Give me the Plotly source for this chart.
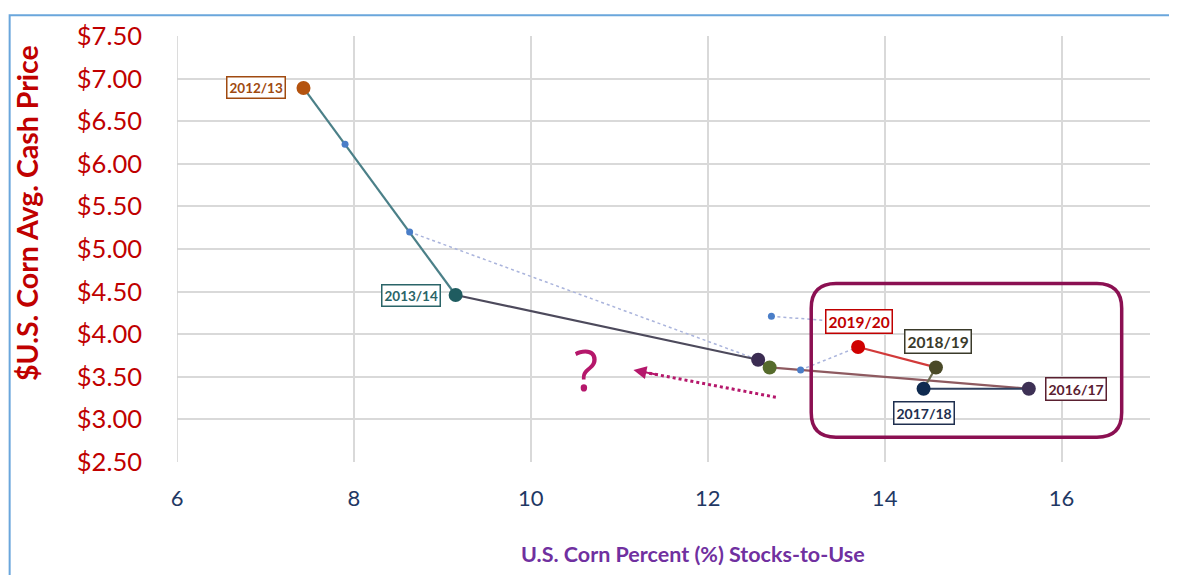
import plotly.graph_objects as go

years = ["2012/13", "2013/14", "2014/15", "2015/16", "2016/17", "2017/18", "2018/19", "2019/20"]
stocks_to_use = [7.43, 9.15, 12.57, 12.70, 15.63, 14.44, 14.58, 13.70]
cash_price = [6.89, 4.46, 3.70, 3.61, 3.36, 3.36, 3.61, 3.85]
labeled = [True, True, False, False, True, True, True, True]

proj_x = [7.90, 8.63, 12.72, 13.05]
proj_y = [6.23, 5.20, 4.21, 3.58]

y_ticks = [2.5, 3.0, 3.5, 4.0, 4.5, 5.0, 5.5, 6.0, 6.5, 7.0, 7.5]
x_ticks = [6, 8, 10, 12, 14, 16]

marker_colors = ["#b4530f", "#1f5c60", "#3b2c52", "#566b2c", "#3e3155", "#0f2a50", "#4a4a28", "#d00000"]
segment_colors = ["#4b8088", "#4d4a5c", "#4a4a3a", "#8e5a60", "#2f4060", "#6a6a50", "#d23a3a"]
label_colors = ["#a04a10", "#2a6468", None, None, "#5a2030", "#1f2f4f", "#3a3a2a", "#c00000"]
label_sizes = [13.5, 13.5, None, None, 14, 14, 15.5, 15.5]
label_shift = [(-47, 0), (-45, 0), None, None, (47, 0), (0, -24), (2, 26), (1, 25)]

FONT = "Lato, Open Sans, sans-serif"

fig = go.Figure()

# faint dotted projection links
dotted_pairs = [((proj_x[1], proj_y[1]), (stocks_to_use[2], cash_price[2])),
                ((proj_x[2], proj_y[2]), (13.35, 4.16)),
                ((proj_x[3], proj_y[3]), (stocks_to_use[7], cash_price[7]))]
for a, b in dotted_pairs:
    fig.add_trace(go.Scatter(x=[a[0], b[0]], y=[a[1], b[1]], mode="lines",
                             line=dict(color="#aab4dc", width=1.5, dash="dot"),
                             hoverinfo="skip", showlegend=False))

# main path segments
for i in range(len(years) - 1):
    fig.add_trace(go.Scatter(x=stocks_to_use[i:i + 2], y=cash_price[i:i + 2], mode="lines",
                             line=dict(color=segment_colors[i], width=2.2),
                             hoverinfo="skip", showlegend=False))

# projection points
fig.add_trace(go.Scatter(x=proj_x, y=proj_y, mode="markers",
                         marker=dict(color="#4a7ec8", size=7), showlegend=False))

# main points
fig.add_trace(go.Scatter(x=stocks_to_use, y=cash_price, mode="markers", text=years,
                         marker=dict(color=marker_colors, size=14), showlegend=False))

annotations = []
for i, yr in enumerate(years):
    if not labeled[i]:
        continue
    dx, dy = label_shift[i]
    annotations.append(dict(x=stocks_to_use[i], y=cash_price[i], xref="x", yref="y", text="<b>%s</b>" % yr,
                            showarrow=False, xshift=dx, yshift=dy,
                            font=dict(family=FONT, size=label_sizes[i], color=label_colors[i]),
                            bgcolor="white", bordercolor=label_colors[i], borderwidth=1.5, borderpad=2))

# axis titles
annotations.append(dict(x=-0.1735, y=0.585, xref="paper", yref="paper", text="<b>$U.S. Corn Avg. Cash Price</b>",
                        textangle=-90, showarrow=False,
                        font=dict(family=FONT, size=28.5, color="#c00000")))
annotations.append(dict(x=0.530, y=-0.25, xref="paper", yref="paper",
                        text="<b>U.S. Corn Percent (%) Stocks-to-Use</b>", showarrow=False,
                        font=dict(family=FONT, size=21.5, color="#7030a0")))

# question mark
annotations.append(dict(x=10.62, y=3.59, xref="x", yref="y", text="?", showarrow=False,
                        font=dict(family="Open Sans", size=56, color="#b5176b")))
# arrow head
annotations.append(dict(x=11.16, y=3.58, ax=11.45, ay=3.52, xref="x", yref="y", axref="x", ayref="y",
                        text="", showarrow=True, arrowhead=2, arrowsize=1.3, arrowwidth=2,
                        arrowcolor="#b5176b"))

shapes = [
    # dotted arrow shaft
    dict(type="line", xref="x", yref="y", x0=12.77, y0=3.26, x1=11.25, y1=3.56,
         line=dict(color="#b5176b", width=3, dash="dot")),
    # rounded highlight box
    dict(type="path", xref="x", yref="y",
         path=("M 13.45,4.595 L 16.40,4.595 Q 16.68,4.595 16.68,4.305 L 16.68,3.08 "
               "Q 16.68,2.79 16.40,2.79 L 13.45,2.79 Q 13.17,2.79 13.17,3.08 L 13.17,4.305 "
               "Q 13.17,4.595 13.45,4.595 Z"),
         line=dict(color="#8b1052", width=3.5)),
    # outer chart border
    dict(type="rect", xref="paper", yref="paper", x0=-0.172, x1=1.0226, y0=-0.32, y1=1.049,
         line=dict(color="#6aa6dc", width=2)),
    # left axis line
    dict(type="line", xref="x", yref="paper", x0=6, x1=6, y0=0, y1=1,
         line=dict(color="#d0d0d0", width=1.5)),
]

fig.update_layout(
    width=1177, height=575,
    margin=dict(l=169, r=35, t=22, b=121),
    paper_bgcolor="white", plot_bgcolor="white",
    showlegend=False,
    annotations=annotations,
    shapes=shapes,
    xaxis=dict(range=[6, 17], tickvals=x_ticks, ticktext=[str(v) for v in x_ticks],
               showgrid=True, gridcolor="#d9d9d9", gridwidth=1.5, zeroline=False,
               showline=False, ticks="", ticklabelstandoff=21,
               tickfont=dict(family=FONT, size=22, color="#1f3864")),
    yaxis=dict(range=[2.5, 7.5], tickvals=y_ticks, ticktext=["$%.2f" % v for v in y_ticks],
               showgrid=True, gridcolor="#d9d9d9", gridwidth=1.5, zeroline=False,
               showline=False, ticks="", ticklabelstandoff=34,
               tickfont=dict(family=FONT, size=25.5, color="#c00000")),
)

fig.write_html("out.html")
